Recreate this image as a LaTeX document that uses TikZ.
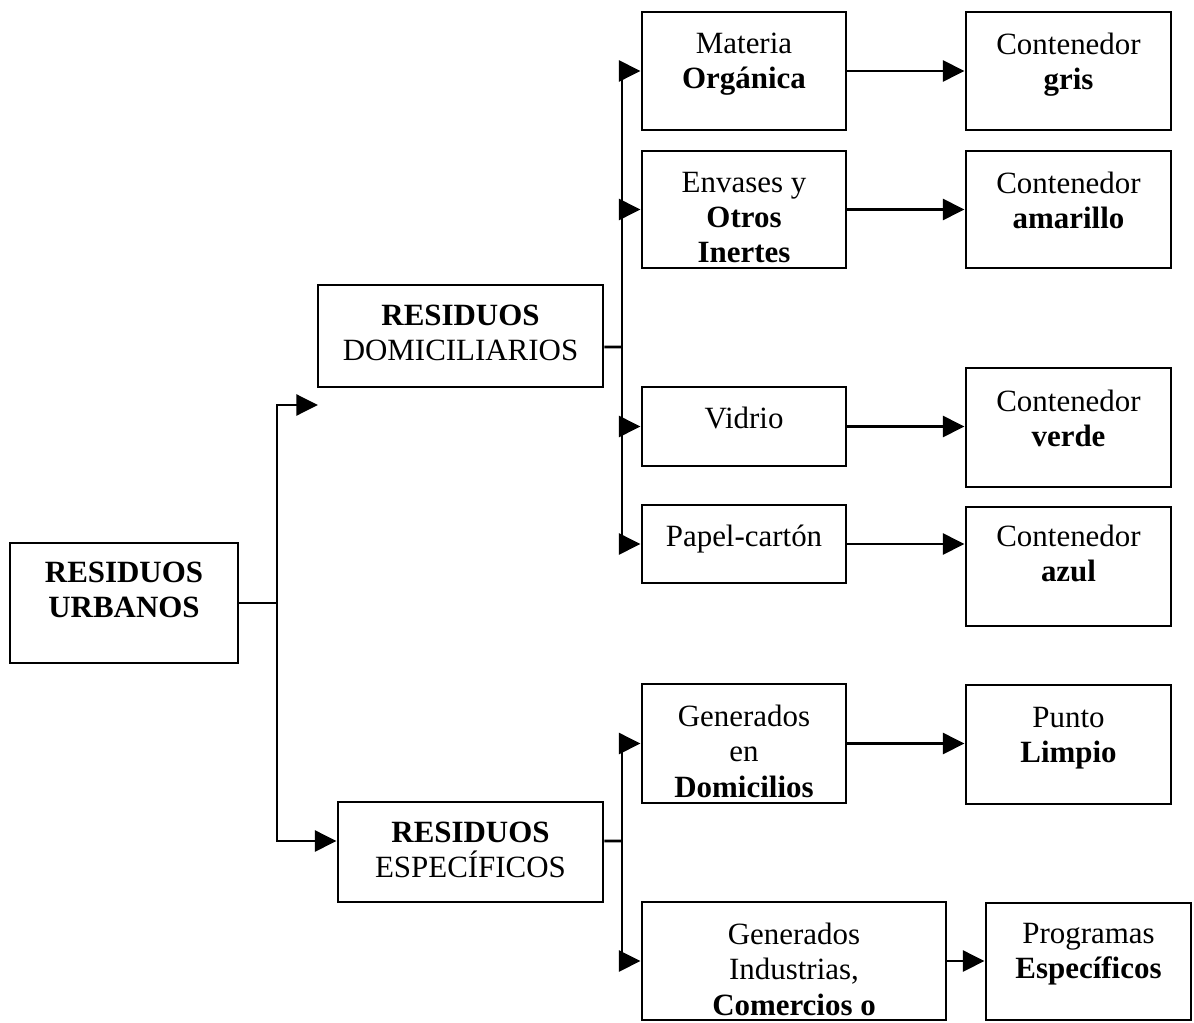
\documentclass[tikz,border=0pt]{standalone}
\usepackage{fontspec}
\setmainfont{Liberation Serif}
\usetikzlibrary{arrows.meta,fit}
\tikzset{
    caja/.style={draw, line width=2.1pt, inner sep=0pt},
    txt/.style={anchor=north, align=center, inner sep=0pt,
                font=\fontsize{22}{25}\selectfont},
    linea/.style={line width=2.1pt},
    flecha/.style={line width=2.1pt, -{Triangle[length=0.54cm,width=0.52cm]}}
}
\begin{document}
\begin{tikzpicture}[x=0.025cm,y=-0.025cm]
    \useasboundingbox (0,0) rectangle (1194,1023);
    \node[caja, fit={(10,543) (238,663)}]   (ru) {}; \node[txt] (ru-t) at (124,562)    {\textbf{RESIDUOS}\\\textbf{URBANOS}};
    \node[caja, fit={(318,285) (603,387)}]  (rd) {}; \node[txt] (rd-t) at (460.5,305)  {\textbf{RESIDUOS}\\DOMICILIARIOS};
    \node[caja, fit={(338,802) (603,902)}]  (re) {}; \node[txt] (re-t) at (470.5,822)  {\textbf{RESIDUOS}\\ESPECÍFICOS};
    \node[caja, fit={(642,12) (846,130)}]   (mo) {}; \node[txt] (mo-t) at (744,33)     {Materia\\\textbf{Orgánica}};
    \node[caja, fit={(642,151) (846,268)}]  (en) {}; \node[txt] (en-t) at (744,172)    {Envases y\\\textbf{Otros}\\\textbf{Inertes}};
    \node[caja, fit={(642,387) (846,466)}]  (vi) {}; \node[txt] (vi-t) at (744,407)    {Vidrio};
    \node[caja, fit={(642,505) (846,583)}]  (pa) {}; \node[txt] (pa-t) at (744,525)    {Papel-cartón};
    \node[caja, fit={(966,12) (1171,130)}]  (cg) {}; \node[txt] (cg-t) at (1068.5,33)  {Contenedor\\\textbf{gris}};
    \node[caja, fit={(966,151) (1171,268)}] (ca) {}; \node[txt] (ca-t) at (1068.5,172) {Contenedor\\\textbf{amarillo}};
    \node[caja, fit={(966,368) (1171,487)}] (cv) {}; \node[txt] (cv-t) at (1068.5,390) {Contenedor\\\textbf{verde}};
    \node[caja, fit={(966,507) (1171,626)}] (cz) {}; \node[txt] (cz-t) at (1068.5,525) {Contenedor\\\textbf{azul}};
    \node[caja, fit={(642,684) (846,803)}]  (gd) {}; \node[txt] (gd-t) at (744,705)    {Generados\\en\\\textbf{Domicilios}};
    \node[caja, fit={(966,685) (1171,804)}] (pl) {}; \node[txt] (pl-t) at (1068.5,707) {Punto\\\textbf{Limpio}};
    \node[caja, fit={(642,902) (946,1020)}] (gi) {}; \node[txt] (gi-t) at (794,923)    {Generados\\Industrias,\\\textbf{Comercios o}};
    \node[caja, fit={(986,903) (1191,1020)}] (pe) {}; \node[txt] (pe-t) at (1088.5,923) {Programas\\\textbf{Específicos}};
    % ramas
    \coordinate (j1) at (277,603);
    \coordinate (j2) at (622,347);
    \coordinate (j3) at (622,841);
    \coordinate (rd-in) at (318,405);
    \draw[linea] (ru.east) -- (j1);
    \draw[flecha] (j1) |- (rd-in);
    \draw[flecha] (j1) |- ([yshift=0.275cm]re.west);
    \draw[linea] ([yshift=-0.275cm]rd.east) -- (j2);
    \draw[flecha] (j2) |- (mo.west);
    \draw[flecha] (j2) |- (en.west);
    \draw[flecha] (j2) |- (vi.west);
    \draw[flecha] (j2) |- (pa.west);
    \draw[linea] ([yshift=0.275cm]re.east) -- (j3);
    \draw[flecha] (j3) |- (gd.west);
    \draw[flecha] (j3) |- (gi.west);
    \draw[flecha] (mo.east) -- (mo.east -| cg.west);
    \draw[flecha] (en.east) -- (en.east -| ca.west);
    \draw[flecha] (vi.east) -- (vi.east -| cv.west);
    \draw[flecha] (pa.east) -- (pa.east -| cz.west);
    \draw[flecha] (gd.east) -- (gd.east -| pl.west);
    \draw[flecha] (gi.east) -- (gi.east -| pe.west);
\end{tikzpicture}
\end{document}
